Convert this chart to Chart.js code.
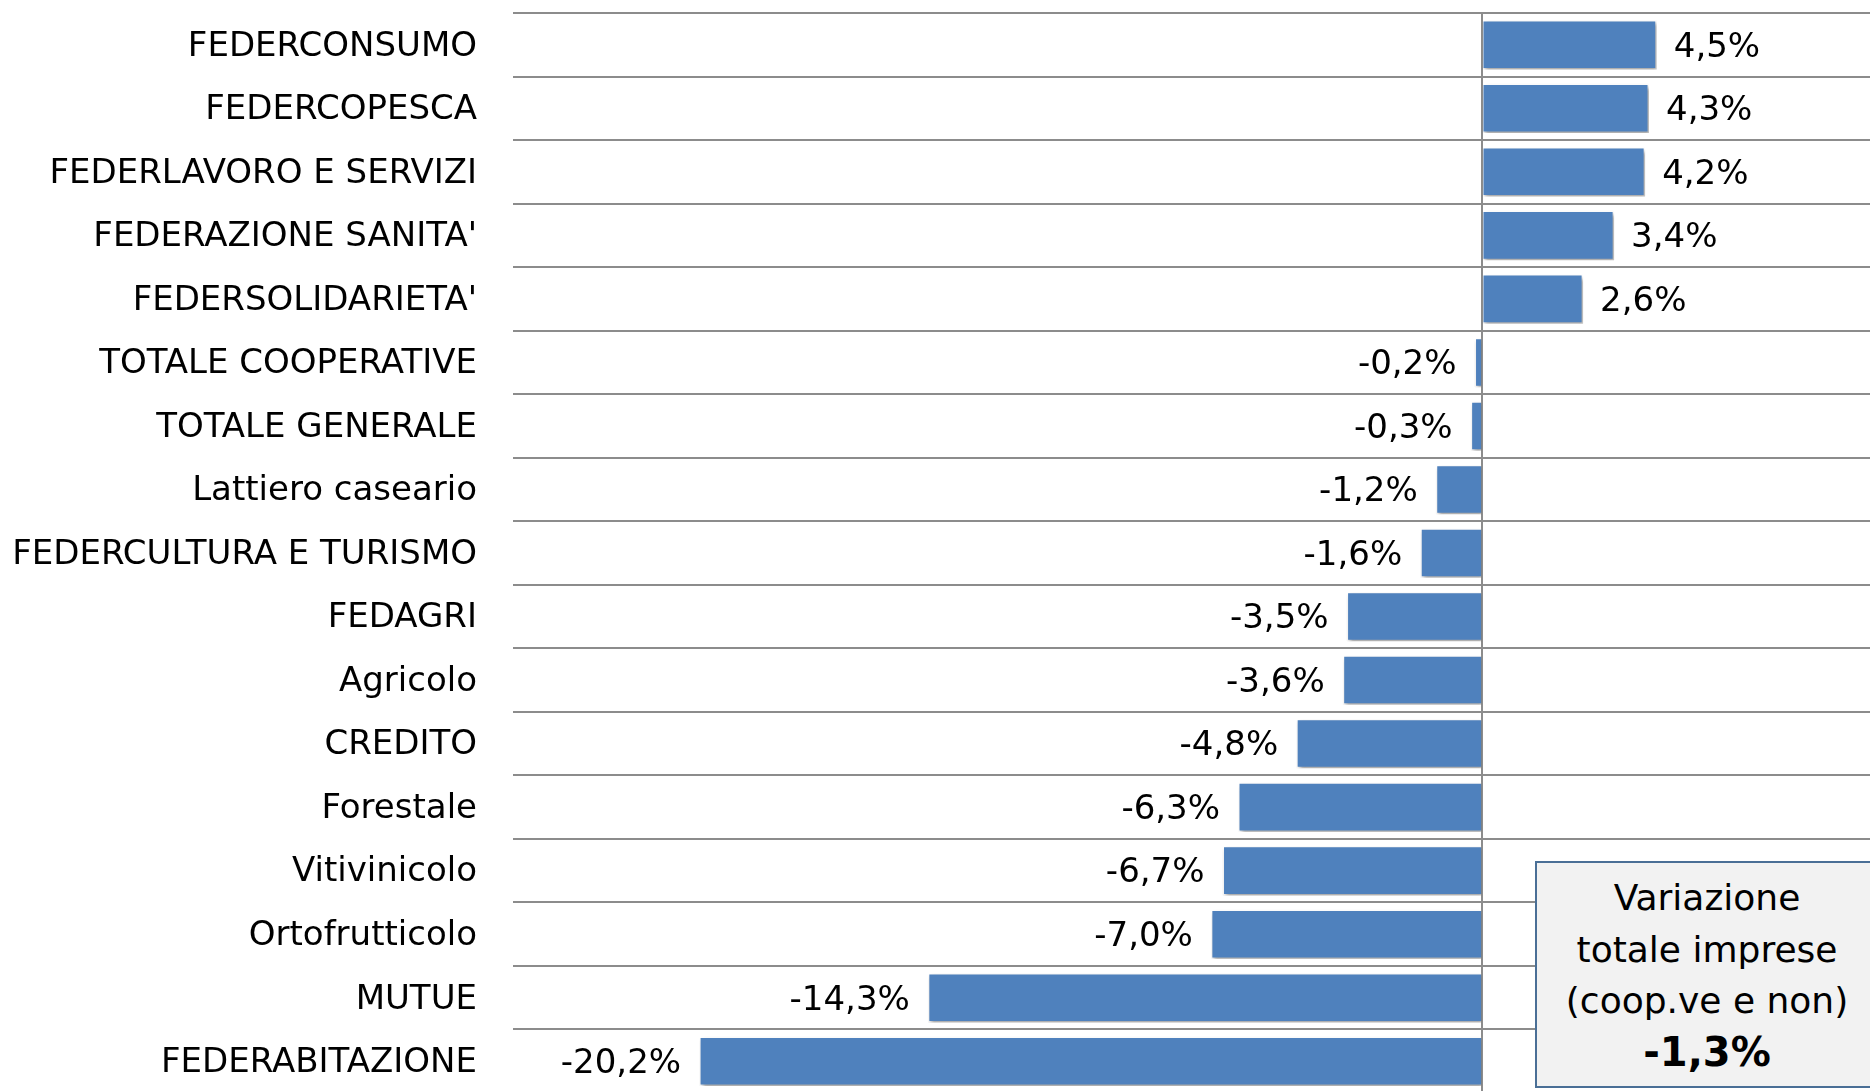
<!DOCTYPE html>
<html>
<head>
<meta charset="utf-8">
<script src="https://cdn.jsdelivr.net/npm/chart.js@4.4.1/dist/chart.umd.min.js"></script>
<style>
    html, body { margin: 0; padding: 0; background: #fff; overflow: hidden; }
    #wrap { position: relative; width: 1870px; height: 1091px; overflow: hidden; }
    #varBox {
        position: absolute;
        left: 1535px;
        top: 861px;
        width: 350px;
        height: 227px;
        box-sizing: border-box;
        background: #f2f2f2;
        border: 2px solid #4a6f96;
        font-family: 'DejaVu Sans', sans-serif;
        font-size: 36px;
        line-height: 51.5px;
        text-align: center;
        color: #000;
        padding-top: 9px;
        padding-right: 6px;
    }
    #varBox b { font-size: 40px; }
</style>
</head>
<body>
<div id="wrap">
    <canvas id="changeChart" width="1870" height="1100"></canvas>
    <div id="varBox">Variazione<br>totale imprese<br>(coop.ve e non)<br><b>-1,3%</b></div>
</div>

<script>
const categories = [
    'FEDERCONSUMO', 'FEDERCOPESCA', 'FEDERLAVORO E SERVIZI', "FEDERAZIONE SANITA'",
    "FEDERSOLIDARIETA'", 'TOTALE COOPERATIVE', 'TOTALE GENERALE', 'Lattiero caseario',
    'FEDERCULTURA E TURISMO', 'FEDAGRI', 'Agricolo', 'CREDITO', 'Forestale',
    'Vitivinicolo', 'Ortofrutticolo', 'MUTUE', 'FEDERABITAZIONE'
];
const changes = [4.5, 4.3, 4.2, 3.4, 2.6, -0.2, -0.3, -1.2, -1.6, -3.5, -3.6, -4.8, -6.3, -6.7, -7.0, -14.3, -20.2];
const axisMin = -25;
const axisMax = 10;

const fontFamily = "'DejaVu Sans', sans-serif";

// shadow under the bars + value labels beside them
const barLabels = {
    id: 'barLabels',
    beforeDatasetsDraw(chart) {
        const c = chart.ctx;
        c.save();
        c.shadowColor = 'rgba(0,0,0,0.35)';
        c.shadowBlur = 4;
        c.shadowOffsetX = 2;
        c.shadowOffsetY = 3;
    },
    afterDatasetsDraw(chart) {
        const c = chart.ctx;
        c.restore();
        const meta = chart.getDatasetMeta(0);
        c.save();
        c.font = '34px ' + fontFamily;
        c.fillStyle = '#000';
        c.textBaseline = 'middle';
        meta.data.forEach((bar, i) => {
            const v = chart.data.datasets[0].data[i];
            const txt = v.toFixed(1).replace('.', ',') + '%';
            if (v >= 0) {
                c.textAlign = 'left';
                c.fillText(txt, bar.x + 17, bar.y + 3);
            } else {
                c.textAlign = 'right';
                c.fillText(txt, bar.x - 18, bar.y + 3);
            }
        });
        c.restore();
    }
};

function createChangeChart() {
    const ctx = document.getElementById('changeChart').getContext('2d');

    const myChart = new Chart(ctx, {
        type: 'bar',
        data: {
            labels: categories,
            datasets: [{
                data: changes,
                backgroundColor: '#4f81bd',
                borderColor: 'rgba(255,255,255,0.85)',
                borderWidth: 1.5,
                barPercentage: 0.78,
                categoryPercentage: 1
            }]
        },
        plugins: [barLabels],
        options: {
            indexAxis: 'y',
            responsive: false,
            animation: false,
            layout: { autoPadding: false, padding: { top: 13, bottom: 7, left: 0, right: 0 } },
            plugins: {
                legend: { display: false },
                tooltip: { enabled: false }
            },
            scales: {
                x: {
                    min: axisMin,
                    max: axisMax,
                    z: 1,
                    border: { display: false },
                    grid: {
                        drawTicks: false,
                        lineWidth: 2,
                        color: (c) => (c.tick && c.tick.value === 0) ? '#8c8c8c' : 'rgba(0,0,0,0)'
                    },
                    ticks: { display: false, stepSize: 5 },
                    afterFit: (scale) => {
                        scale.height = 0;
                        scale.paddingLeft = 0;
                        scale.paddingRight = 0;
                    }
                },
                y: {
                    border: { display: false },
                    grid: {
                        offset: true,
                        drawTicks: false,
                        color: '#8c8c8c',
                        lineWidth: 2
                    },
                    ticks: {
                        color: '#000',
                        padding: 36,
                        labelOffset: 2,
                        font: { family: fontFamily, size: 34 }
                    },
                    afterFit: (scale) => {
                        scale.width = 513;
                        scale.paddingTop = 0;
                        scale.paddingBottom = 0;
                    }
                }
            }
        }
    });
}

createChangeChart();
</script>
</body>
</html>
